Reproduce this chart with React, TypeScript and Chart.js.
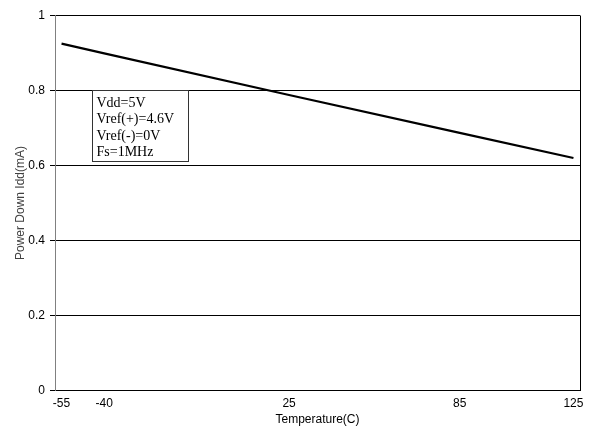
import React, { useEffect, useRef } from "react";
import { Chart, registerables } from "chart.js";

Chart.register(...registerables);

const temperatures = [-55, -40, 25, 85, 125];
const idd = [0.925, 0.899, 0.788, 0.687, 0.62];
const xTicks = [-55, -40, 25, 85, 125];
const yTicks = [0, 0.2, 0.4, 0.6, 0.8, 1];
const noteLines = ["Vdd=5V", "Vref(+)=4.6V", "Vref(-)=0V", "Fs=1MHz"];
const xTitle = "Temperature(C)";
const yTitle = "Power Down Idd(mA)";

const sans = "'Liberation Sans', Arial, sans-serif";

const framePlugin = {
  id: "frame",
  afterDraw(chart: any) {
    const { ctx, chartArea, scales } = chart;
    ctx.save();
    ctx.strokeStyle = "#000";
    ctx.lineWidth = 1;
    ctx.beginPath();
    ctx.moveTo(Math.round(chartArea.right) + 0.5, chartArea.top);
    ctx.lineTo(Math.round(chartArea.right) + 0.5, chartArea.bottom);
    ctx.stroke();

    const left = Math.round(scales.x.getPixelForValue(-44.2)) + 0.5;
    const top = Math.round(scales.y.getPixelForValue(0.8)) + 0.5;
    const w = 96;
    const h = 71;
    ctx.fillStyle = "#fff";
    ctx.fillRect(left, top, w, h);
    ctx.strokeStyle = "#333";
    ctx.strokeRect(left, top, w, h);
    ctx.fillStyle = "#000";
    ctx.font = "14px 'Liberation Serif', 'Times New Roman', serif";
    ctx.textBaseline = "alphabetic";
    ctx.textAlign = "left";
    noteLines.forEach((t, i) => {
      ctx.fillText(t, left + 4, top + 16 + i * 16.5);
    });
    ctx.restore();
  },
};

export default function App() {
  const ref = useRef<HTMLCanvasElement | null>(null);
  useEffect(() => {
    document.body.style.margin = "0";
    const canvas = ref.current!;
    const chart = new Chart(canvas, {
      type: "line",
      data: {
        datasets: [
          {
            data: temperatures.map((t, i) => ({ x: t, y: idd[i] })),
            borderColor: "#000",
            borderWidth: 2.2,
            pointRadius: 0,
            tension: 0,
            fill: false,
          },
        ],
      },
      options: {
        animation: false,
        responsive: false,
        layout: { padding: { left: 0, right: 12, top: 15.5, bottom: 0 } },
        plugins: { legend: { display: false }, tooltip: { enabled: false } },
        scales: {
          x: {
            type: "linear",
            min: -57.3,
            max: 127.3,
            afterBuildTicks: (s: any) => {
              s.ticks = xTicks.map((v) => ({ value: v }));
            },
            afterFit: (s: any) => {
              s.height = 40.5;
            },
            grid: { display: false, drawTicks: false },
            border: { display: true, color: "#000", width: 1 },
            ticks: {
              autoSkip: false,
              maxRotation: 0,
              padding: 6,
              color: "#000",
              font: { family: sans, size: 12 },
              callback: (v: any) => String(v),
            },
            title: {
              display: true,
              text: xTitle,
              color: "#000",
              font: { family: sans, size: 12 },
              padding: { top: 0, bottom: 4 },
            },
          },
          y: {
            type: "linear",
            min: 0,
            max: 1,
            afterBuildTicks: (s: any) => {
              s.ticks = yTicks.map((v) => ({ value: v }));
            },
            afterFit: (s: any) => {
              s.width = 55;
            },
            grid: { color: "#000", lineWidth: 1, drawTicks: true, tickLength: 5 },
            border: { display: true, color: "#808080", width: 1 },
            ticks: {
              padding: 5,
              color: "#000",
              font: { family: sans, size: 12 },
              callback: (v: any) => String(Math.round(v * 10) / 10),
            },
            title: {
              display: true,
              text: yTitle,
              color: "#404040",
              font: { family: sans, size: 12 },
              padding: { top: 13, bottom: 0 },
            },
          },
        },
      },
      plugins: [framePlugin],
    });
    return () => chart.destroy();
  }, []);
  return (
    <div style={{ width: 592, height: 431 }}>
      <canvas ref={ref} width={592} height={431} style={{ display: "block" }} />
    </div>
  );
}
